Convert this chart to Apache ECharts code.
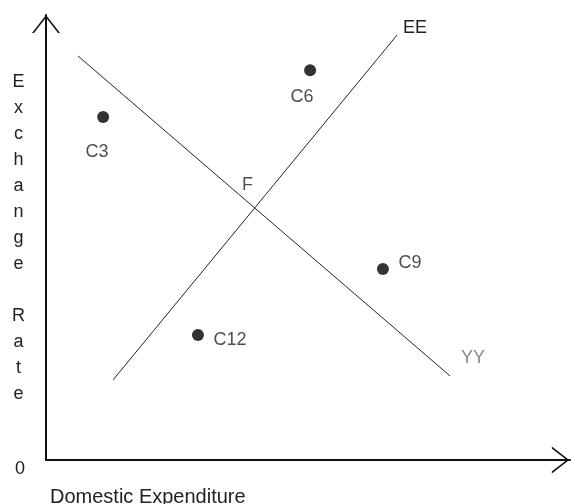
<!DOCTYPE html>
<html>
<head>
<meta charset="utf-8">
<script src="https://cdn.jsdelivr.net/npm/echarts@6/dist/echarts.min.js"></script>
<style>
  html, body { margin: 0; background: #fff; }
  #chart { width: 571px; height: 504px; }
</style>
</head>
<body>
<div id="chart"></div>
<script>
// points, in arbitrary 0-100 units on both axes
const pointNames = ['C3', 'C6', 'C9', 'C12'];
const pointX = [10.9, 50.4, 64.3, 29.0];
const pointY = [77.1, 87.6, 42.9, 28.1];

// the two schedules, start and end
const yyX = [6.1, 77.1];
const yyY = [90.8, 18.9];
const eeX = [12.8, 67.0];
const eeY = [18.0, 95.5];

// intersection
const fX = [40.0];
const fY = [56.7];

const yTicks = [0];
const yTitle = 'Exchange Rate';
const xTitle = 'Domestic Expenditure';

const font = 'Liberation Sans, Arial, sans-serif';
const textColor = '#222';
const labelOffsets = [[-6, 35], [-8, 27], [27, -6], [32, 5]];
const chevron = 'path://M0,18L14,0L28,18L26,18L14,2.6L2,18Z';

function lineData(xs, ys, name, offset, color) {
  return xs.map((x, i) => {
    const item = { value: [x, ys[i]] };
    if (i === xs.length - 1) {
      item.label = { show: true, formatter: name, position: 'inside', offset: offset, color: color };
    }
    return item;
  });
}

const chart = echarts.init(document.getElementById('chart'));
chart.setOption({
  animation: false,
  textStyle: { fontFamily: font },
  title: [
    {
      text: xTitle,
      left: 50,
      top: 487,
      padding: 0,
      textStyle: { fontSize: 20, fontWeight: 'normal', color: textColor, fontFamily: font }
    },
    {
      // vertical y title, one letter per line
      text: yTitle.split('').map(c => (c === ' ' ? '' : c)).join('\n'),
      left: 18.5,
      top: 69,
      padding: 0,
      textAlign: 'center',
      textStyle: { fontSize: 18, fontWeight: 'normal', lineHeight: 26, color: textColor, fontFamily: font, align: 'center' }
    }
  ],
  grid: { left: 46, right: 1, top: 15, bottom: 44, outerBoundsMode: 'none' },
  xAxis: {
    type: 'value',
    min: 0,
    max: 100,
    interval: 100,
    splitLine: { show: false },
    axisTick: { show: false },
    axisLabel: { show: false },
    axisLine: {
      lineStyle: { color: '#111', width: 2 },
      symbol: ['none', chevron],
      symbolSize: [27, 19],
      symbolOffset: [0, -9.5]
    }
  },
  yAxis: {
    type: 'value',
    min: 0,
    max: 100,
    interval: 100,
    splitLine: { show: false },
    axisTick: { show: false },
    axisLabel: {
      formatter: v => (yTicks.includes(v) ? String(v) : ''),
      margin: 21,
      verticalAlign: 'top',
      fontSize: 18,
      color: textColor
    },
    axisLine: {
      lineStyle: { color: '#111', width: 2 },
      symbol: ['none', chevron],
      symbolSize: [28, 18],
      symbolOffset: [0, -9]
    }
  },
  series: [
    {
      name: 'YY',
      type: 'line',
      symbol: 'circle',
      symbolSize: 0,
      lineStyle: { color: '#222', width: 1 },
      label: { fontSize: 18 },
      data: lineData(yyX, yyY, 'YY', [23, -18], '#888')
    },
    {
      name: 'EE',
      type: 'line',
      symbol: 'circle',
      symbolSize: 0,
      lineStyle: { color: '#222', width: 1 },
      label: { fontSize: 18 },
      data: lineData(eeX, eeY, 'EE', [18, -7], textColor)
    },
    {
      name: 'F',
      type: 'scatter',
      symbolSize: 0,
      label: { show: true, formatter: 'F', position: 'inside', offset: [-8, -23], fontSize: 18, color: textColor },
      data: fX.map((x, i) => [x, fY[i]])
    },
    {
      name: 'points',
      type: 'scatter',
      symbolSize: 12,
      itemStyle: { color: '#000' },
      label: { show: true, position: 'inside', fontSize: 18, color: textColor, formatter: p => p.name },
      data: pointNames.map((n, i) => ({
        name: n,
        value: [pointX[i], pointY[i]],
        label: { offset: labelOffsets[i] }
      }))
    }
  ]
});
</script>
</body>
</html>
